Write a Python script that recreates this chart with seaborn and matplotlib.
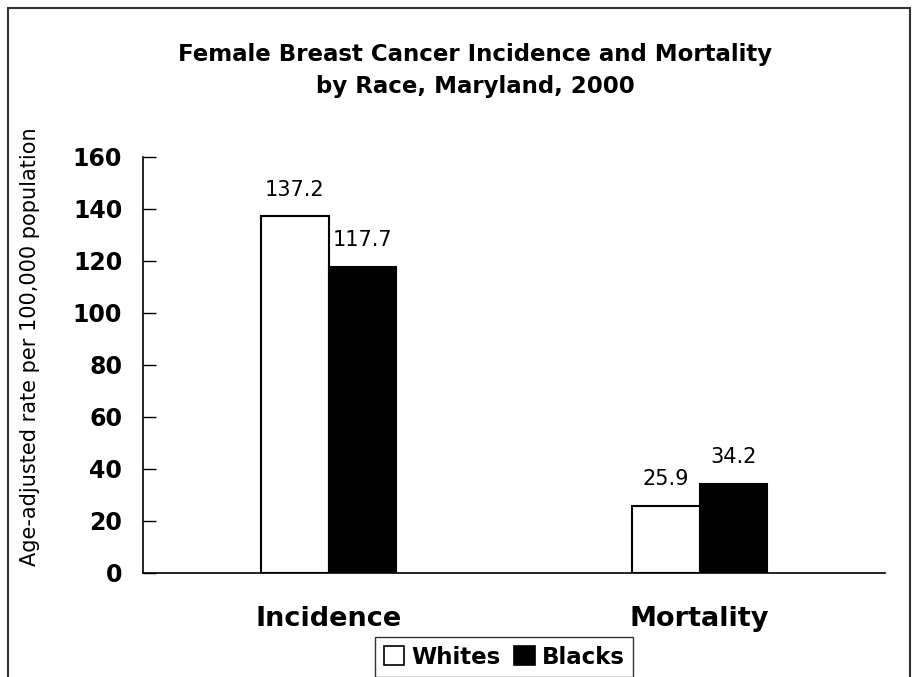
import matplotlib
matplotlib.use("Agg")
import matplotlib.pyplot as plt
import seaborn as sns
import pandas as pd
from matplotlib.patches import Patch, Rectangle

categories = ["Incidence", "Mortality"]
races = ["Whites", "Blacks"]
whites = [137.2, 25.9]
blacks = [117.7, 34.2]
yticks = [0, 20, 40, 60, 80, 100, 120, 140, 160]

df = pd.DataFrame({
    "category": categories * 2,
    "race": [races[0]] * 2 + [races[1]] * 2,
    "value": whites + blacks,
})

sns.set_style("white")
plt.rcParams["font.family"] = ["DejaVu Sans"]
plt.rcParams["text.color"] = "black"
plt.rcParams["axes.labelcolor"] = "black"
plt.rcParams["xtick.color"] = "black"
plt.rcParams["ytick.color"] = "black"

fig = plt.figure(figsize=(9.18, 6.77), dpi=100)
ax = fig.add_axes([143/918, 1-573/677, (885-143)/918, (573-157)/677])

sns.barplot(data=df, x="category", y="value", hue="race", order=categories,
            hue_order=races, palette=["white", "black"], edgecolor="black",
            linewidth=1.5, width=0.364, gap=0, ax=ax, legend=False)

for cont in ax.containers:
    ax.bar_label(cont, fmt="%.1f", padding=12, fontsize=15, color="black")

ax.set_ylim(0, 160)
ax.set_yticks(yticks)
ax.set_yticklabels([str(v) for v in yticks], fontsize=17, fontweight="bold")
ax.tick_params(axis="y", direction="in", length=9, width=1, pad=15, left=True,
               colors="black")
ax.tick_params(axis="x", length=0, pad=24, colors="black")
for lab in ax.get_xticklabels():
    lab.set_fontsize(19.5)
    lab.set_fontweight("bold")
ax.set_xlabel("")
ax.set_ylabel("")
sns.despine(ax=ax)
for s in ["left", "bottom"]:
    ax.spines[s].set_color("black")
    ax.spines[s].set_linewidth(1.2)

fig.text(30/918, 1-347/677, "Age-adjusted rate per 100,000 population",
         rotation=90, ha="center", va="center", fontsize=15, color="black")

fig.text(475/918, 1-55/677, "Female Breast Cancer Incidence and Mortality",
         ha="center", va="center", fontsize=16.5, fontweight="bold", color="black")
fig.text(475/918, 1-87/677, "by Race, Maryland, 2000",
         ha="center", va="center", fontsize=16.5, fontweight="bold", color="black")

handles = [Patch(facecolor="white", edgecolor="black", linewidth=1.2),
           Patch(facecolor="black", edgecolor="black", linewidth=1.2)]
leg = fig.legend(handles, races, loc="center", bbox_to_anchor=(504/918, 1-657/677),
                 ncol=2, frameon=True, fancybox=False, edgecolor="black",
                 handlelength=0.9, handleheight=0.9, handletextpad=0.3,
                 columnspacing=0.6, borderpad=0.35,
                 prop={"size": 16.5, "weight": "bold"})
leg.get_frame().set_linewidth(1.0)
for t in leg.get_texts():
    t.set_color("black")

border = Rectangle((8/918, -0.1), (910-8)/918, 1.1 - 8/677, transform=fig.transFigure,
                   fill=False, edgecolor="#333333", linewidth=1.5, clip_on=False)
fig.patches.append(border)

fig.savefig("out.png", dpi=100)
